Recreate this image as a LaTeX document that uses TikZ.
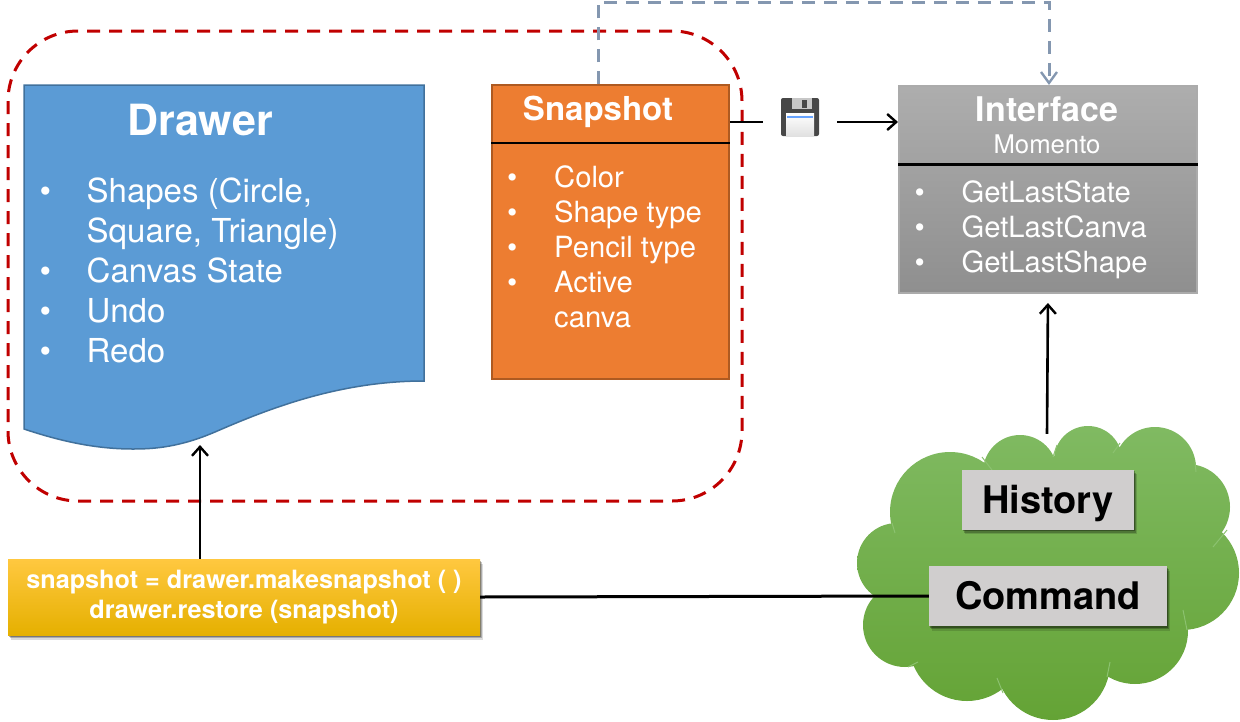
\documentclass[tikz,border=0pt]{standalone}
\usepackage{fontspec}
\setmainfont{TeX Gyre Heros}
\usepackage{xcolor}
\usetikzlibrary{arrows.meta, positioning, shadows}

\definecolor{drawerblue}{HTML}{5B9BD5}
\definecolor{drawerline}{HTML}{41719C}
\definecolor{snaporange}{HTML}{ED7D31}
\definecolor{snapline}{HTML}{AE5A21}
\definecolor{groupred}{HTML}{C00000}
\definecolor{dashblue}{HTML}{8497B0}
\definecolor{labelgray}{HTML}{D0CECE}
\definecolor{cloudtop}{RGB}{128,186,98}
\definecolor{cloudbottom}{RGB}{100,163,53}
\definecolor{cloudseam}{RGB}{140,194,112}

\begin{document}
\begin{tikzpicture}[x=1pt, y=-1pt]
            \tikzstyle{arrow} = [line width=2.6pt, -{Straight Barb[length=9pt, width=16pt, line width=2.4pt]}]
            \tikzstyle{plain} = [line width=2.2pt]
            \tikzstyle{softshadow} = [drop shadow={shadow xshift=3pt, shadow yshift=-4.5pt, fill=black, opacity=0.14}, drop shadow={shadow xshift=2pt, shadow yshift=-3pt, fill=black, opacity=0.22}, drop shadow={shadow xshift=1pt, shadow yshift=-1.5pt, fill=black, opacity=0.3}]
            \tikzstyle{label} = [rectangle, fill=labelgray, inner sep=0pt, text height=27pt, text depth=0pt, font=\fontsize{38}{38}\selectfont\bfseries, text=black, softshadow]
            \tikzstyle{title} = [text=white, inner sep=0pt, font=\bfseries]
            \tikzstyle{list} = [text=white, inner sep=0pt, anchor=west]

            \useasboundingbox (0,0) rectangle (1240,721);

            \node (group)[rectangle, draw=groupred, line width=3pt, dash pattern=on 13pt off 9pt, rounded corners=70pt, minimum width=734pt, minimum height=470pt] at (375,266) {};

            % drawer sheet
            \filldraw[fill=drawerblue, draw=drawerline, line width=1.5pt] (24,85) -- (424,85) -- (424,381)
                .. controls (340,381) and (270,408) .. (215,432)
                .. controls (180,447) and (155,449) .. (133,449)
                .. controls (95,449) and (60,441) .. (24,429) -- cycle;
            \coordinate (drawertip) at (200,445);
            \node (drawertitle)[title, font=\fontsize{43}{43}\selectfont\bfseries] at (200,120) {Drawer};
            \node (drawerlist)[list] at (39.5,274) {\fontsize{33}{40}\selectfont
                \begin{tabular}{@{}p{47pt}@{}l@{}}
                    \textbullet & Shapes (Circle,\\
                                & Square, Triangle)\\
                    \textbullet & Canvas State\\
                    \textbullet & Undo\\
                    \textbullet & Redo
                \end{tabular}};

            % snapshot
            \node (snapshot)[rectangle, fill=snaporange, draw=snapline, line width=1.5pt, minimum width=237pt, minimum height=294pt] at (610.5,232) {};
            \draw [plain] ([yshift=-58.5pt]snapshot.north west) -- ([yshift=-58.5pt]snapshot.north east);
            \node (snapshottitle)[title, font=\fontsize{33}{33}\selectfont\bfseries] at (598,112) {Snapshot};
            \node (snapshotlist)[list] at (507,250) {\fontsize{29.2}{35}\selectfont
                \begin{tabular}{@{}p{47pt}@{}l@{}}
                    \textbullet & Color\\
                    \textbullet & Shape type\\
                    \textbullet & Pencil type\\
                    \textbullet & Active\\
                                & canva
                \end{tabular}};

            % interface
            \node (interface)[rectangle, top color=black!32, bottom color=black!44, draw=black!33, line width=2pt, minimum width=298pt, minimum height=207pt] at (1048,189.5) {};
            \draw [plain] ([yshift=-79.5pt]interface.north west) -- ([yshift=-79.5pt]interface.north east);
            \node (interfacetitle)[title, font=\fontsize{34}{34}\selectfont\bfseries] at (1047,109) {Interface};
            \node (momento)[below=13pt of interfacetitle, text=white, inner sep=0pt, font=\fontsize{25.7}{25.7}\selectfont] {Momento};
            \node (interfacelist)[list] at (914.5,230) {\fontsize{29.2}{35}\selectfont
                \begin{tabular}{@{}p{47pt}@{}l@{}}
                    \textbullet & GetLastState\\
                    \textbullet & GetLastCanva\\
                    \textbullet & GetLastShape
                \end{tabular}};

            % floppy
            \node (floppy)[minimum width=74pt, minimum height=30pt, inner sep=0pt] at (800,122) {};
            \fill[black!72, rounded corners=2pt] (781,98) rectangle (819,136);
            \fill[black!22] (792,98) rectangle (812,109);
            \fill[black!72] (802,100) rectangle (807,108);
            \shade[top color=white, bottom color=black!12] (786,113) rectangle (814,136);
            \fill[blue!60!cyan!60] (787,115.5) rectangle (813,118);

            % cloud
            \shade[top color=cloudtop, bottom color=cloudbottom]
                (1155,468) circle (41) (1088,460) circle (34) (1020,472) circle (37) (950,512) circle (60)
                (897,563) circle (40) (905,625) circle (42) (967,643) circle (58) (1053,663) circle (57)
                (1135,631) circle (53) (1182,573) circle (57) (1187,507) circle (43) (1045,570) ellipse (130 and 110);
            \draw[cloudseam, line width=1pt] (1053,457) -- (1057,445) (1113,453) -- (1120,443) (1196,472) -- (1195,462)
                (1213,547) -- (1227,530) (1187,630) -- (1183,610) (1110,662) -- (1107,677)
                (997,678) -- (1003,693) (908,667) -- (918,662) (892,523) -- (895,533) (982,457) -- (992,470);
            \node (cloud)[minimum width=380pt, minimum height=266pt] at (1047,567) {};
            \node (command)[label, minimum width=238pt, minimum height=60pt] at (1048,596) {Command};
            \node (history)[label, minimum width=172pt, minimum height=60pt, above=36pt of command] {History};

            % code box
            \node (code)[rectangle, top color={rgb,255:red,255;green,200;blue,64}, middle color={rgb,255:red,255;green,200;blue,0}, bottom color={rgb,255:red,229;green,176;blue,0}, minimum width=472pt, minimum height=76pt, softshadow] at (244,597) {};
            \node (codetext)[text=white, align=center, inner sep=0pt, font=\fontsize{25.2}{29.5}\selectfont\bfseries] at (code.center) {snapshot = drawer.makesnapshot ( )\\ drawer.restore (snapshot)};

            % connectors
            \coordinate (dashleft) at (598,2);
            \coordinate (dashright) at (1049,2);
            \draw [arrow] (code.north -| drawertip) -- (drawertip);
            \draw [line width=3pt] (code.east) -- (command.west);
            \draw [arrow, shorten >=9pt] (cloud.north) -- (interface.south);
            \draw [plain] (floppy.west -| snapshot.east) -- (floppy.west);
            \draw [arrow] (floppy.east) -- (interface.west |- floppy.east);
            \draw [line width=3pt, draw=dashblue, dash pattern=on 13pt off 9pt, -{Straight Barb[length=11pt, width=16pt, line width=2.4pt]}] (snapshot.north -| dashleft) -- (dashleft) -- (dashright) -- (interface.north -| dashright);
        \end{tikzpicture}
\end{document}
